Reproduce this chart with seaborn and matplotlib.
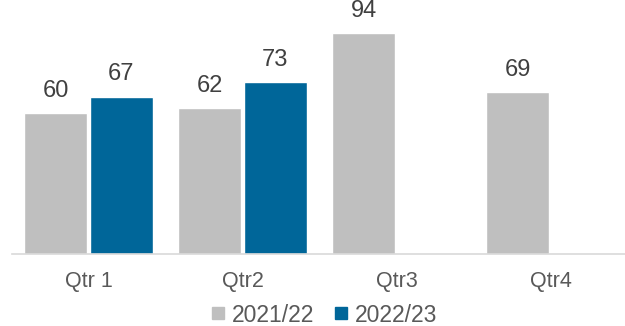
import numpy as np
import pandas as pd
import matplotlib
matplotlib.use("Agg")
import matplotlib.pyplot as plt
from matplotlib.lines import Line2D
import seaborn as sns

quarters = ["Qtr 1", "Qtr2", "Qtr3", "Qtr4"]
seasons = ["2021/22", "2022/23"]
values_2021_22 = [60, 62, 94, 69]
values_2022_23 = [67, 73, np.nan, np.nan]
colors = ["#bfbfbf", "#006699"]

df = pd.DataFrame({
    "quarter": quarters * 2,
    "season": [seasons[0]] * 4 + [seasons[1]] * 4,
    "value": values_2021_22 + values_2022_23,
})

sns.set_theme(style="white")
plt.rcParams["font.family"] = ["Liberation Sans", "DejaVu Sans"]

fig = plt.figure(figsize=(6.25, 3.26), dpi=100)
ax = fig.add_axes([11.5 / 625, 72 / 326, 616 / 625, 235 / 326])

sns.barplot(data=df, x="quarter", y="value", hue="season", order=quarters,
            hue_order=seasons, palette=colors, width=0.85, gap=0.035,
            saturation=1, ax=ax, legend=False, errorbar=None)

for cont in ax.containers:
    ax.bar_label(cont, fmt="%.0f", padding=8, fontsize=17, color="#404040")

ax.set_ylim(0, 100)
ax.set_xlim(-0.5, 3.5)
ax.set_xlabel("")
ax.set_ylabel("")
ax.set_yticks([])
ax.tick_params(axis="x", length=0, pad=12, labelsize=15.5, labelcolor="#595959")
for side in ["top", "left", "right"]:
    ax.spines[side].set_visible(False)
ax.spines["bottom"].set_color("#d9d9d9")
ax.spines["bottom"].set_linewidth(1.2)

handles = [Line2D([], [], marker="s", linestyle="none", markersize=9,
                  markerfacecolor=c, markeredgecolor=c) for c in colors]
fig.legend(handles, seasons, loc="center", bbox_to_anchor=(323.5 / 625, 1 - 315 / 326),
           ncol=2, frameon=False, fontsize=16.5, labelcolor="#595959",
           handlelength=0.7, handletextpad=0.25, columnspacing=0.8,
           borderaxespad=0, borderpad=0)

fig.savefig("out.png", dpi=100)
